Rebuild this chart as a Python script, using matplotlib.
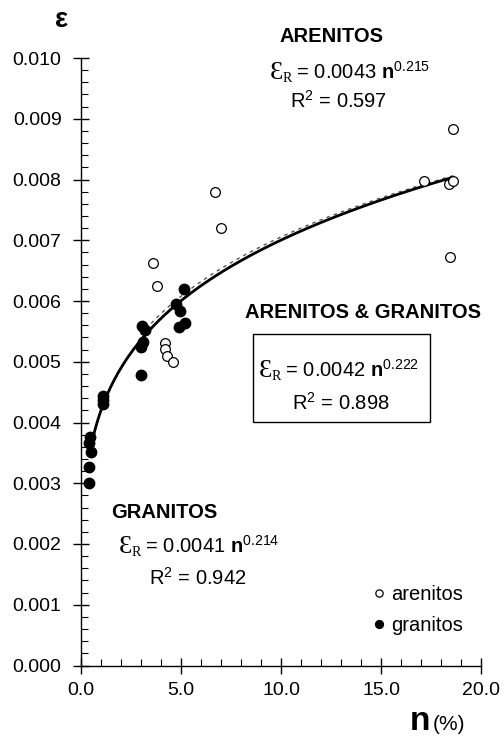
import numpy as np
import matplotlib
matplotlib.use("Agg")
import matplotlib.pyplot as plt
from matplotlib.ticker import MultipleLocator, FormatStrFormatter

plt.rcParams["font.family"] = ["Liberation Sans", "DejaVu Sans"]
plt.rcParams["mathtext.fontset"] = "custom"
plt.rcParams["mathtext.rm"] = "Liberation Sans"
plt.rcParams["mathtext.bf"] = "Liberation Sans:bold"

# arenitos (open circles)
aren_n = [3.58, 3.78, 4.20, 4.22, 4.28, 4.62, 6.68, 6.98, 17.17, 18.40, 18.60, 18.58, 18.45]
aren_e = [0.00663, 0.00625, 0.00531, 0.00521, 0.00510, 0.00500, 0.00780, 0.00720,
          0.00798, 0.00793, 0.00798, 0.00883, 0.00673]

# granitos (filled circles)
gran_n = [5.15, 4.75, 4.95, 4.92, 5.22, 3.05, 3.20, 3.12, 2.98, 3.02,
          1.08, 1.10, 1.12, 0.45, 0.42, 0.48, 0.42, 0.42]
gran_e = [0.00619, 0.00595, 0.00583, 0.00557, 0.00563, 0.00559, 0.00552, 0.00533, 0.00525, 0.00479,
          0.00444, 0.00437, 0.00431, 0.00376, 0.00367, 0.00352, 0.00326, 0.00301]

# power fits  eps = a * n^b
fit_all = (0.0042, 0.222)
fit_aren = (0.0043, 0.215)

fig = plt.figure(figsize=(5.04, 7.38), dpi=100)
ax = fig.add_axes([81 / 504, 1 - 665.5 / 738, 400 / 504, 607.5 / 738])

n = np.linspace(0.45, 18.6, 300)
ax.plot(n, fit_all[0] * n ** fit_all[1], color="black", lw=2.0, zorder=3)
n = np.linspace(3.0, 18.6, 200)
ax.plot(n, fit_aren[0] * n ** fit_aren[1], color="#555555", lw=1.0, ls=(0, (2.5, 3)), zorder=2)

ax.plot(aren_n, aren_e, "o", ms=7, mfc="white", mec="black", mew=0.9, ls="none",
        label="arenitos", zorder=4)
ax.plot(gran_n, gran_e, "o", ms=7.5, mfc="black", mec="black", ls="none",
        label="granitos", zorder=4)

ax.set_xlim(0, 20)
ax.set_ylim(0, 0.010)
ax.xaxis.set_major_locator(MultipleLocator(5))
ax.xaxis.set_minor_locator(MultipleLocator(1))
ax.yaxis.set_major_locator(MultipleLocator(0.001))
ax.yaxis.set_minor_locator(MultipleLocator(0.0002))
ax.xaxis.set_major_formatter(FormatStrFormatter("%.1f"))
ax.yaxis.set_major_formatter(FormatStrFormatter("%.3f"))
ax.tick_params(which="major", direction="inout", length=12, width=1, labelsize=14, colors="black")
ax.tick_params(which="minor", direction="in", length=5, width=0.8)
ax.tick_params(axis="x", pad=6)
ax.tick_params(axis="y", pad=8)
ax.spines["top"].set_visible(False)
ax.spines["right"].set_visible(False)
for s in ("left", "bottom"):
    ax.spines[s].set_linewidth(1.0)

ax.legend(loc="lower right", bbox_to_anchor=(1.0, 0.02), frameon=False, fontsize=14.5,
          handletextpad=0.1, handlelength=1.0, labelspacing=0.6, markerscale=0.75)

fs = 14.5
# y label
fig.text(62 / 504, 1 - 20 / 738, "ε", fontsize=20, fontweight="bold", ha="center", va="center")
# x label
fig.text(430 / 504, 1 - 722 / 738, "n", fontsize=24, fontweight="bold", ha="right", va="center")
fig.text(433 / 504, 1 - 724 / 738, "(%)", fontsize=15, ha="left", va="center")


def eq(x, y, a, b):
    # big serif epsilon, small serif R subscript, then the rest in sans
    fig.text(x / 504, 1 - y / 738, "Ɛ", family="Liberation Serif", fontsize=19,
             ha="right", va="baseline")
    fig.text(x / 504, 1 - (y + 3) / 738, "R", family="Liberation Serif", fontsize=10,
             ha="left", va="baseline")
    fig.text((x + 8) / 504, 1 - y / 738, r" = %s $\mathbf{n}^{%s}$" % (a, b), fontsize=fs,
             ha="left", va="baseline")


# arenitos
fig.text(331 / 504, 1 - 37 / 738, "ARENITOS", fontsize=14.5, fontweight="bold", ha="center", va="center")
eq(283, 79, "0.0043", "0.215")
fig.text(338 / 504, 1 - 101 / 738, r"R$^2$ = 0.597", fontsize=fs, ha="center", va="center")

# all
fig.text(363 / 504, 1 - 313 / 738, "ARENITOS & GRANITOS", fontsize=14.5, fontweight="bold",
         ha="center", va="center")
fig.patches.append(plt.Rectangle((253 / 504, 1 - 422 / 738), 177 / 504, 88 / 738,
                                 transform=fig.transFigure, fill=False, ec="black", lw=1.0))
eq(272, 377, "0.0042", "0.222")
fig.text(341 / 504, 1 - 403 / 738, r"R$^2$ = 0.898", fontsize=fs, ha="center", va="center")

# granitos
fig.text(164 / 504, 1 - 512 / 738, "GRANITOS", fontsize=14.5, fontweight="bold", ha="center", va="center")
eq(132, 553, "0.0041", "0.214")
fig.text(198 / 504, 1 - 578 / 738, r"R$^2$ = 0.942", fontsize=fs, ha="center", va="center")

fig.savefig("out.png", dpi=100)
